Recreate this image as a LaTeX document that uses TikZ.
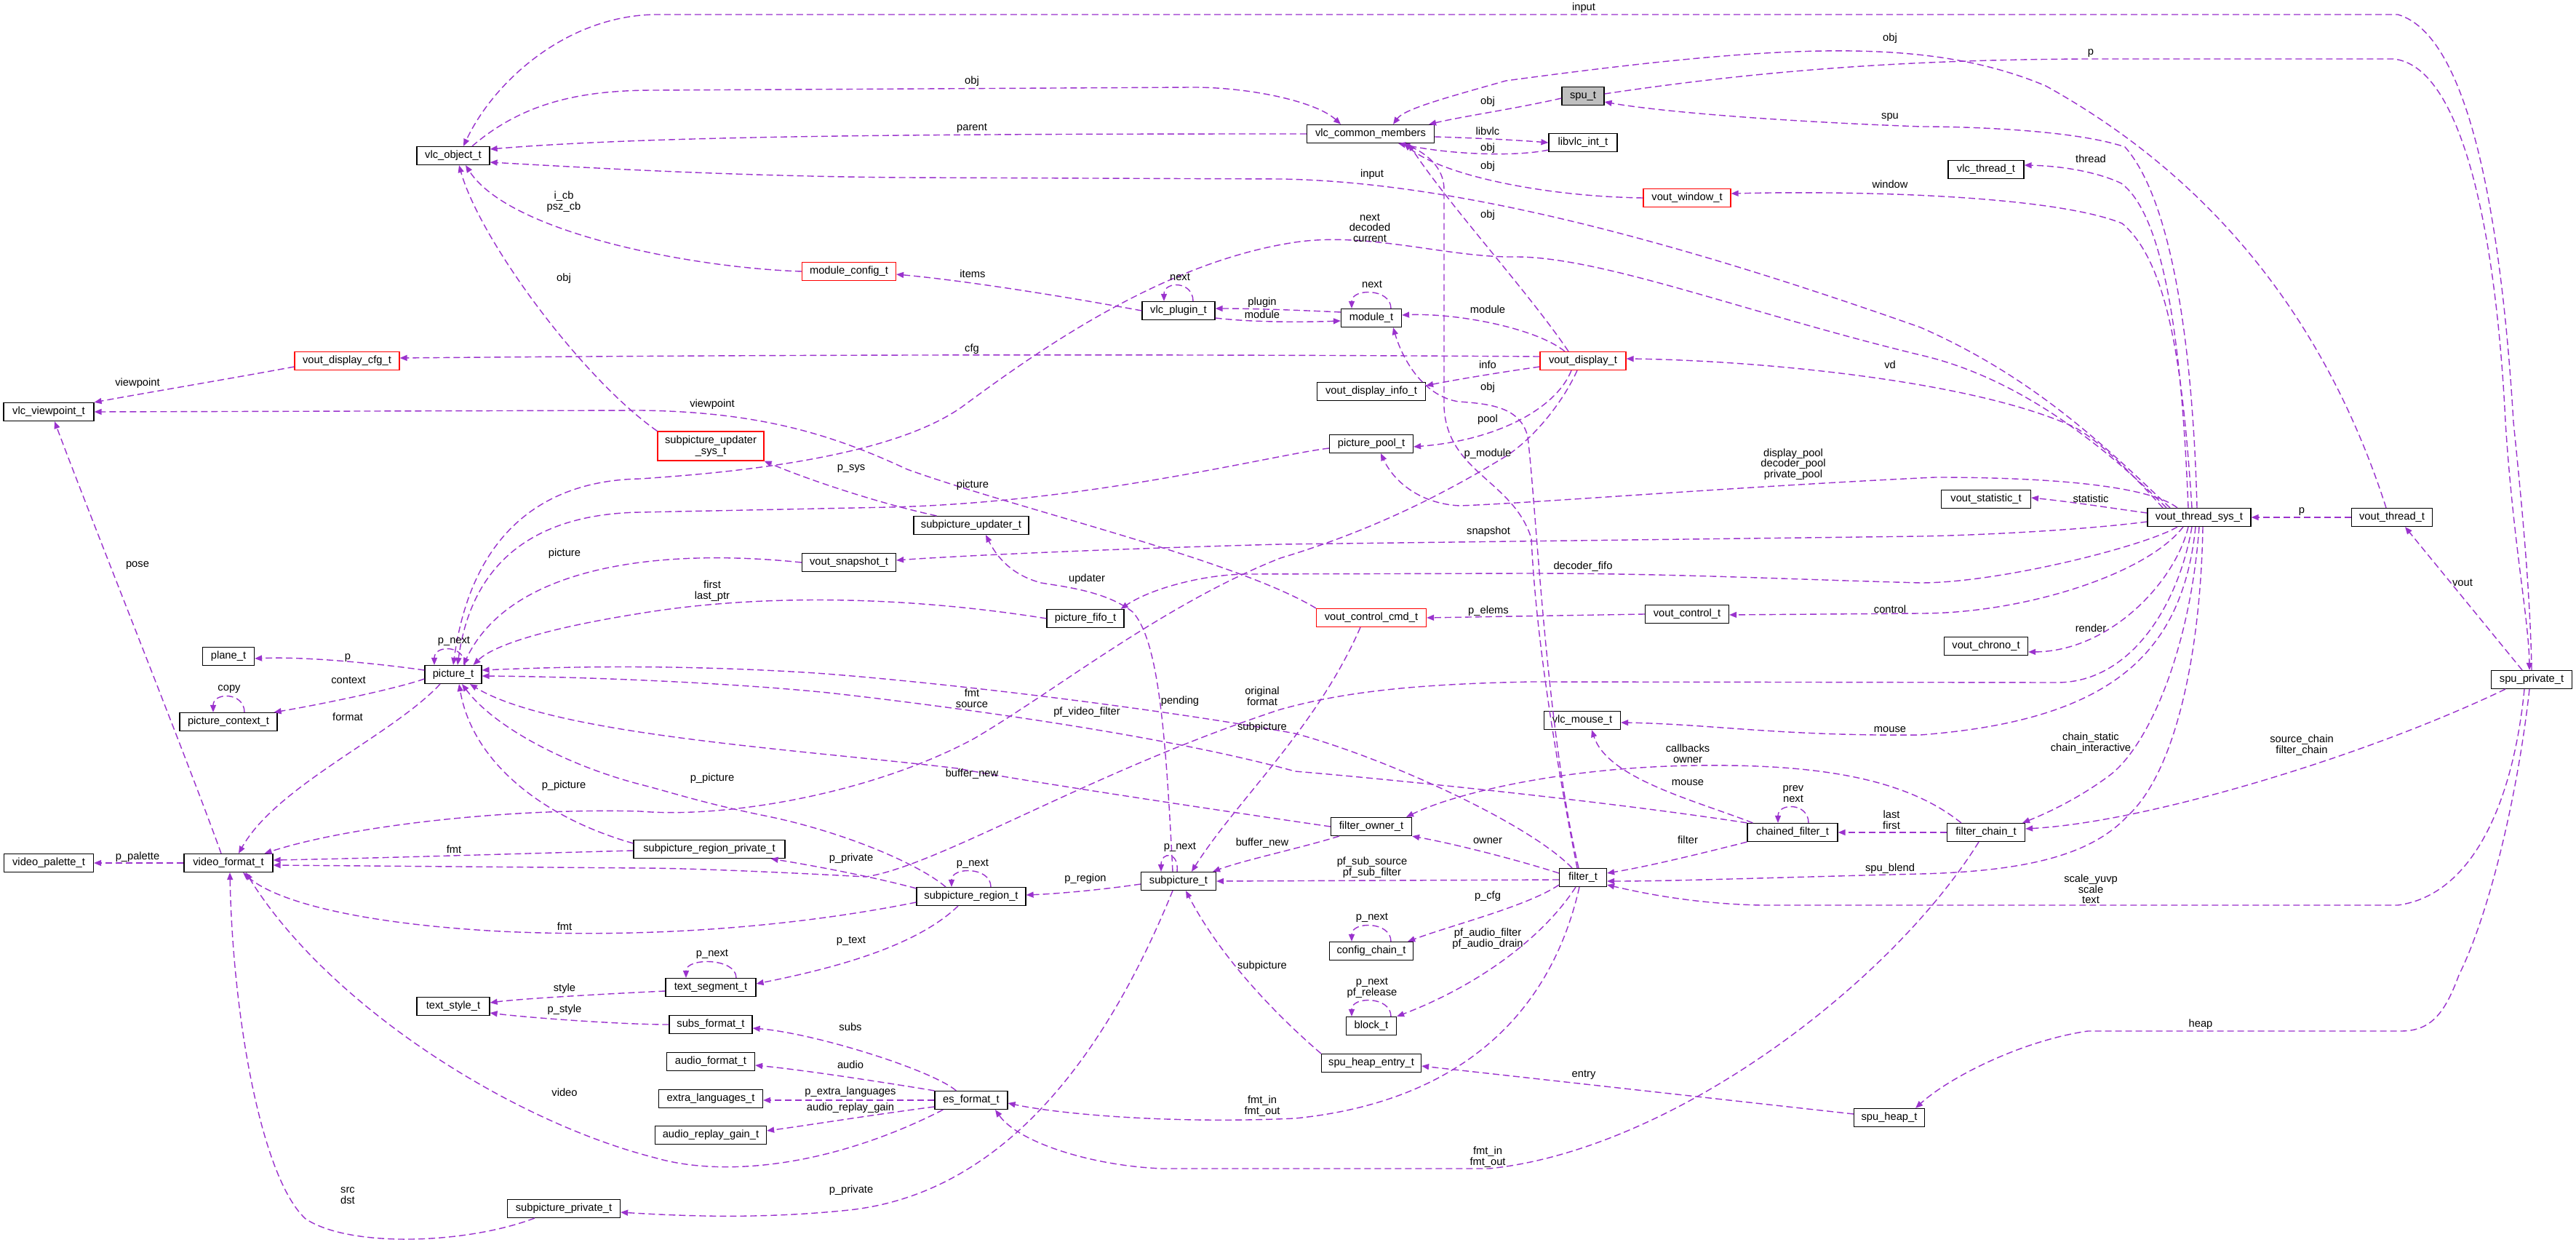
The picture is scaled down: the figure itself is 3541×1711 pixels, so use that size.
\documentclass[tikz,border=0pt]{standalone}
\usepackage{fontspec}
\setmainfont{Liberation Sans}
\usepackage{tikz}
\usetikzlibrary{arrows.meta,calc}
\definecolor{EdgePurple}{HTML}{9A32CD}
\definecolor{RootGray}{HTML}{BFBFBF}

\begin{document}
\begin{tikzpicture}[x=0.5pt, y=-0.5pt,
    box/.style={draw=black, line width=0.6pt, fill=white, minimum height=12.5pt, inner sep=1pt, font=\fontsize{7.35}{7.3}\selectfont, align=center},
    redbox/.style={box, draw=red},
    rootbox/.style={box, fill=RootGray},
    lbl/.style={font=\fontsize{7.35}{7.3}\selectfont, align=center, inner sep=0pt},
    dep/.style={draw=EdgePurple, line width=0.7pt, dash pattern=on 4.5pt off 2.5pt, -{Triangle[length=5pt,width=4pt]}}
]
\path[fill=white, use as bounding box] (0,0) rectangle (3541,1711);

\node[rootbox, minimum width=29pt] (sput) at (2176,132) {spu\_t};
\node[box, minimum width=87.5pt] (vcm) at (1884,184) {vlc\_common\_members};
\node[box, minimum width=50pt] (vobj) at (623,214) {vlc\_object\_t};
\node[box, minimum width=47pt] (libvlc) at (2176,196) {libvlc\_int\_t};
\node[redbox, minimum width=60pt] (vwin) at (2319,272) {vout\_window\_t};
\node[box, minimum width=52pt] (vthr) at (2730,233) {vlc\_thread\_t};
\node[redbox, minimum width=64.5pt] (mcfg) at (1167,373) {module\_config\_t};
\node[box, minimum width=50pt] (vplug) at (1620,427) {vlc\_plugin\_t};
\node[box, minimum width=41.5pt] (mod) at (1885,437) {module\_t};
\node[redbox, minimum width=72pt] (vdcfg) at (477,496) {vout\_display\_cfg\_t};
\node[box, minimum width=62pt] (vview) at (67,566) {vlc\_viewpoint\_t};
\node[redbox, minimum width=59pt] (vdisp) at (2176,496) {vout\_display\_t};
\node[box, minimum width=74.5pt] (vdinfo) at (1885,538) {vout\_display\_info\_t};
\node[box, minimum width=57.5pt] (ppool) at (1885,610) {picture\_pool\_t};
\node[redbox, minimum width=73pt, minimum height=20pt] (supsys) at (977,613) {subpicture\_updater\\\_sys\_t};
\node[box, minimum width=79pt] (supd) at (1335,722) {subpicture\_updater\_t};
\node[box, minimum width=61.5pt] (vstat) at (2730,686) {vout\_statistic\_t};
\node[box, minimum width=71pt] (vtsys) at (3023,711) {vout\_thread\_sys\_t};
\node[box, minimum width=55.5pt] (vthread) at (3288,711) {vout\_thread\_t};
\node[box, minimum width=64.5pt] (vsnap) at (1167,773) {vout\_snapshot\_t};
\node[box, minimum width=53pt] (pfifo) at (1492,850) {picture\_fifo\_t};
\node[redbox, minimum width=75.5pt] (vccmd) at (1885,849) {vout\_control\_cmd\_t};
\node[box, minimum width=57.5pt] (vctrl) at (2319,844) {vout\_control\_t};
\node[box, minimum width=35.5pt] (plane) at (314,902) {plane\_t};
\node[box, minimum width=39pt] (pic) at (623,927) {picture\_t};
\node[box, minimum width=57.5pt] (vchrono) at (2730,888) {vout\_chrono\_t};
\node[box, minimum width=55.5pt] (spupriv) at (3480,934) {spu\_private\_t};
\node[box, minimum width=67pt] (picctx) at (314,992) {picture\_context\_t};
\node[box, minimum width=52.5pt] (vmouse) at (2175,990) {vlc\_mouse\_t};
\node[box, minimum width=55.5pt] (fowner) at (1885,1136) {filter\_owner\_t};
\node[box, minimum width=62pt] (cfilt) at (2464,1144) {chained\_filter\_t};
\node[box, minimum width=53.5pt] (fchain) at (2730,1144) {filter\_chain\_t};
\node[box, minimum width=61.5pt] (vpal) at (67,1186) {video\_palette\_t};
\node[box, minimum width=61pt] (vfmt) at (314,1186) {video\_format\_t};
\node[box, minimum width=104pt] (sregpriv) at (975,1167) {subpicture\_region\_private\_t};
\node[box, minimum width=75pt] (sreg) at (1335,1232) {subpicture\_region\_t};
\node[box, minimum width=51.5pt] (subpic) at (1620,1211) {subpicture\_t};
\node[box, minimum width=32.5pt] (filt) at (2176,1206) {filter\_t};
\node[box, minimum width=57.5pt] (cchain) at (1885,1307) {config\_chain\_t};
\node[box, minimum width=50pt] (tstyle) at (623,1383) {text\_style\_t};
\node[box, minimum width=62pt] (tseg) at (977,1357) {text\_segment\_t};
\node[box, minimum width=57pt] (subsf) at (977,1408) {subs\_format\_t};
\node[box, minimum width=34.5pt] (blk) at (1885,1410) {block\_t};
\node[box, minimum width=60.5pt] (audf) at (977,1459) {audio\_format\_t};
\node[box, minimum width=71.5pt] (extl) at (977,1510) {extra\_languages\_t};
\node[box, minimum width=50pt] (esf) at (1335,1512) {es\_format\_t};
\node[box, minimum width=76.5pt] (argain) at (977,1560) {audio\_replay\_gain\_t};
\node[box, minimum width=68.5pt] (sheapent) at (1885,1461) {spu\_heap\_entry\_t};
\node[box, minimum width=48.5pt] (sheap) at (2597,1536) {spu\_heap\_t};
\node[box, minimum width=77.5pt] (subpriv) at (775,1661) {subpicture\_private\_t};

\draw[dep] ($(vobj.north)+(26,0)$) .. controls (720,140) and (800,124) .. (900,124) -- (1640,120) .. controls (1720,120) and (1810,140) .. ($(vcm.north)+(-41,0)$);
\draw[dep] (vcm.west) .. controls (1300,184) and (900,186) .. ($(vobj.east)+(0,-9)$);
\draw[dep] (spupriv.north) .. controls (3478,800) and (3462,650) .. (3455,580) .. controls (3440,330) and (3400,50) .. (3296,20) -- (900,20) .. controls (780,22) and (680,110) .. ($(vobj.north)+(14,0)$);
\draw[dep] ($(vtsys.north)+(-40,0)$) .. controls (2900,620) and (2800,520) .. (2640,450) .. controls (2300,330) and (2000,250) .. (1760,246) -- (1240,244) .. controls (1000,242) and (800,230) .. ($(vobj.east)+(0,9)$);
\draw[dep] (mcfg.west) .. controls (950,368) and (700,320) .. ($(vobj.south)+(17,0)$);
\draw[dep] (supsys.north west) .. controls (800,520) and (660,330) .. ($(vobj.south)+(8,0)$);

\draw[dep] ($(sput.west)+(0,3)$) .. controls (2080,150) and (2010,160) .. ($(vcm.north east)+(-8,0)$);
\draw[dep] ($(sput.east)+(0,-3)$) .. controls (2400,100) and (2600,82) .. (2870,81) -- (3290,81) .. controls (3380,90) and (3430,300) .. (3444,580) .. controls (3455,750) and (3476,850) .. ($(spupriv.north)+(-3,0)$);
\draw[dep] ($(vthread.north)+(-8,0)$) .. controls (3200,450) and (3050,250) .. (2812,118) .. controls (2650,50) and (2450,60) .. (2070,111) .. controls (1985,135) and (1930,150) .. ($(vcm.north)+(31,0)$);
\draw[dep] ($(libvlc.south west)+(0,-3)$) .. controls (2080,216) and (1990,212) .. ($(vcm.south)+(38,0)$);
\draw[dep] ($(vcm.east)+(0,4)$) .. controls (2040,190) and (2090,193) .. (libvlc.west);
\draw[dep] (vwin.west) .. controls (2120,270) and (1980,240) .. ($(vcm.south)+(46,0)$);
\draw[dep] ($(vdisp.north)+(-20,0)$) .. controls (2100,400) and (1990,280) .. ($(vcm.south)+(52,0)$);
\draw[dep] ($(filt.north)+(-8,0)$) .. controls (2130,1000) and (2110,850) .. (2105,740) .. controls (2080,660) and (1990,650) .. (1985,560) -- (1985,260) .. controls (1985,230) and (1960,210) .. ($(vcm.south)+(44,0)$);

\draw[dep] ($(vtsys.north)+(-3,0)$) .. controls (3015,500) and (2990,280) .. (2921,202) .. controls (2850,178) and (2700,174) .. (2640,174) .. controls (2400,165) and (2260,150) .. ($(sput.east)+(0,8)$);
\draw[dep] ($(vtsys.north)+(-10,0)$) .. controls (3000,500) and (2980,360) .. (2917,307) .. controls (2820,268) and (2550,262) .. ($(vwin.east)+(0,-6)$);
\draw[dep] ($(vtsys.north)+(-15,0)$) .. controls (3000,500) and (2980,300) .. (2916,252) .. controls (2880,235) and (2830,228) .. ($(vthr.east)+(0,-6)$);
\draw[dep] ($(vtsys.north)+(-50,0)$) .. controls (2930,650) and (2880,600) .. (2847,585) .. controls (2700,520) and (2400,495) .. ($(vdisp.east)+(0,-3)$);
\draw[dep] ($(vtsys.north)+(-45,0)$) .. controls (2900,620) and (2780,520) .. (2640,488) .. controls (2400,430) and (2200,352) .. (2081,353) .. controls (1990,354) and (1880,318) .. (1780,333) .. controls (1600,360) and (1430,480) .. (1328,555) .. controls (1230,630) and (1000,650) .. (880,658) .. controls (760,660) and (650,720) .. (pic.north);
\draw[dep] ($(vtsys.west)+(0,-6)$) .. controls (2900,698) and (2850,690) .. ($(vstat.east)+(0,-2)$);
\draw[dep] ($(vtsys.north)+(-30,0)$) .. controls (2960,672) and (2850,656) .. (2660,656) .. controls (2400,668) and (2100,692) .. (2006,695) .. controls (1950,692) and (1915,660) .. ($(ppool.south)+(13,0)$);
\draw[dep] ($(vdisp.south)+(-16,0)$) .. controls (2140,560) and (2060,605) .. ($(ppool.east)+(0,4)$);
\draw[dep] ($(vtsys.west)+(0,6)$) .. controls (2850,730) and (2700,736) .. (2640,737) -- (1760,748) .. controls (1500,755) and (1300,765) .. ($(vsnap.east)+(0,-3)$);
\draw[dep] ($(vtsys.south)+(-30,0)$) .. controls (2950,750) and (2750,801) .. (2640,801) .. controls (2450,796) and (2300,788) .. (2100,788) -- (1712,789) .. controls (1650,790) and (1580,810) .. ($(pfifo.north east)+(-5,0)$);
\draw[dep] ($(vtsys.south)+(-22,0)$) .. controls (2950,790) and (2780,843) .. (2640,843) -- ($(vctrl.east)+(0,1)$);
\draw[dep] ($(vtsys.south)+(-15,0)$) .. controls (2990,800) and (2900,895) .. ($(vchrono.east)+(0,8)$);
\draw[dep] ($(vtsys.south)+(-10,0)$) .. controls (2995,830) and (2930,937) .. (2829,938) -- (2105,937) .. controls (1950,940) and (1850,950) .. (1760,975) .. controls (1500,1060) and (1290,1190) .. (1190,1205) .. controls (1100,1200) and (950,1193) .. (880,1193) -- ($(vfmt.east)+(0,3)$);
\draw[dep] ($(vtsys.south)+(-5,0)$) .. controls (3000,900) and (2900,990) .. (2640,1010) .. controls (2450,1012) and (2350,995) .. ($(vmouse.east)+(0,3)$);
\draw[dep] (vtsys.south) .. controls (3010,900) and (2950,1030) .. (2898,1067) .. controls (2860,1095) and (2820,1115) .. ($(fchain.north east)+(-4,0)$);
\draw[dep] ($(vtsys.south)+(5,0)$) .. controls (3025,900) and (2990,1060) .. (2926,1120) .. controls (2880,1170) and (2800,1197) .. (2640,1201) .. controls (2400,1207) and (2300,1211) .. ($(filt.east)+(0,5)$);

\draw[dep] ($(spupriv.south)+(-10,0)$) .. controls (3455,1100) and (3400,1230) .. (3296,1244) -- (2420,1244) .. controls (2330,1242) and (2260,1228) .. ($(filt.east)+(0,10)$);
\draw[dep] ($(spupriv.south)+(-3,0)$) .. controls (3460,1100) and (3420,1260) .. (3380,1340) .. controls (3360,1395) and (3340,1417) .. (3300,1417) -- (2870,1417) .. controls (2780,1430) and (2680,1480) .. ($(sheap.north east)+(-13,0)$);
\draw[dep] ($(spupriv.south west)+(20,0)$) .. controls (3250,1040) and (2950,1130) .. ($(fchain.east)+(0,-5)$);
\draw[dep] ($(spupriv.north)+(-13,0)$) -- ($(vthread.south)+(18,0)$);
\draw[dep] (vthread.west) -- (vtsys.east);

\draw[dep] ($(sheap.west)+(0,-5)$) -- ($(sheapent.east)+(0,4)$);
\draw[dep] (sheapent.north west) .. controls (1760,1400) and (1680,1320) .. ($(subpic.south)+(10,0)$);

\draw[dep] ($(filt.west)+(0,-6)$) .. controls (2080,1180) and (2000,1160) .. (fowner.south east);
\draw[dep] (cfilt.south west) .. controls (2350,1170) and (2270,1190) .. ($(filt.east)+(0,-6)$);
\draw[dep] (fchain.west) -- (cfilt.east);
\draw[dep] ($(cfilt.north)+(22,0)$) .. controls +(0,-28) and +(0,-28) .. ($(cfilt.north)+(-20,0)$);
\draw[dep] ($(cfilt.north west)+(8,0)$) .. controls (2330,1100) and (2210,1070) .. ($(vmouse.south)+(13,0)$);
\draw[dep] ($(fchain.north west)+(20,0)$) .. controls (2620,1070) and (2500,1050) .. (2334,1052) .. controls (2150,1054) and (2000,1090) .. ($(fowner.north east)+(-8,0)$);
\draw[dep] (cfilt.north west) .. controls (2200,1100) and (1900,1070) .. (1780,1060) .. controls (1600,1010) and (1300,970) .. (1138,952) .. controls (1000,938) and (800,930) .. ($(pic.east)+(0,2)$);
\draw[dep] ($(filt.north)+(-15,0)$) .. controls (2100,1130) and (1900,1040) .. (1780,1008) .. controls (1600,975) and (1300,938) .. (1121,925) .. controls (950,914) and (800,915) .. ($(pic.east)+(0,-6)$);
\draw[dep] (fowner.west) .. controls (1650,1110) and (1400,1072) .. (1316,1056) .. controls (1100,1030) and (760,1010) .. ($(pic.south)+(23,0)$);
\draw[dep] ($(fowner.south west)+(12,0)$) .. controls (1790,1165) and (1710,1182) .. ($(subpic.north east)+(-5,0)$);
\draw[dep] ($(filt.west)+(0,3)$) -- (subpic.east);
\draw[dep] ($(filt.south west)+(0,-3)$) .. controls (2100,1245) and (2000,1270) .. ($(cchain.north east)+(-8,0)$);
\draw[dep] ($(cchain.north)+(27,0)$) .. controls +(0,-28) and +(0,-28) .. ($(cchain.north)+(-27,0)$);
\draw[dep] ($(filt.south)+(-10,0)$) .. controls (2120,1290) and (2030,1355) .. (blk.north east);
\draw[dep] ($(blk.north)+(27,0)$) .. controls +(0,-28) and +(0,-28) .. ($(blk.north)+(-27,0)$);
\draw[dep] ($(filt.south)+(-5,0)$) .. controls (2130,1400) and (2000,1515) .. (1780,1537) .. controls (1600,1545) and (1450,1530) .. ($(esf.east)+(0,4)$);
\draw[dep] ($(fchain.south)+(-10,0)$) .. controls (2600,1350) and (2300,1580) .. (2047,1606) -- (1597,1606) .. controls (1500,1602) and (1400,1570) .. ($(esf.south)+(33,0)$);
\draw[dep] ($(filt.north)+(-6,0)$) .. controls (2125,1000) and (2112,700) .. (2100,600) .. controls (2090,560) and (2050,555) .. (2005,552) .. controls (1960,545) and (1930,500) .. ($(mod.south)+(30,0)$);

\draw[dep] ($(vdisp.north)+(-25,0)$) .. controls (2110,450) and (2000,430) .. ($(mod.east)+(0,-4)$);
\draw[dep] ($(mod.north)+(27,0)$) .. controls +(0,-28) and +(0,-28) .. ($(mod.north)+(-27,0)$);
\draw[dep] ($(vplug.east)+(0,10)$) .. controls (1720,443) and (1790,443) .. ($(mod.west)+(0,4)$);
\draw[dep] ($(mod.west)+(0,-8)$) .. controls (1780,426) and (1720,424) .. ($(vplug.east)+(0,-3)$);
\draw[dep] ($(vplug.north)+(20,0)$) .. controls +(0,-28) and +(0,-28) .. ($(vplug.north)+(-20,0)$);
\draw[dep] (vplug.west) .. controls (1450,405) and (1320,385) .. ($(mcfg.east)+(0,4)$);
\draw[dep] ($(vdisp.west)+(0,8)$) .. controls (2060,512) and (2000,522) .. ($(vdinfo.east)+(0,-8)$);
\draw[dep] ($(vdisp.west)+(0,-6)$) .. controls (1500,486) and (1000,488) .. ($(vdcfg.east)+(0,-4)$);
\draw[dep] ($(vdcfg.west)+(0,8)$) .. controls (330,518) and (200,540) .. (vview.north east);
\draw[dep] (vccmd.north west) .. controls (1700,770) and (1400,700) .. (1247,645) .. controls (1150,600) and (1050,566) .. (880,564) -- (vview.east);
\draw[dep] ($(vdisp.south)+(-8,0)$) .. controls (2145,560) and (2100,610) .. (2065,630) .. controls (1950,700) and (1850,740) .. (1760,767) .. controls (1600,830) and (1450,950) .. (1339,1015) .. controls (1200,1090) and (1000,1125) .. (880,1115) .. controls (700,1110) and (480,1135) .. ($(vfmt.north east)+(-12,0)$);

\draw[dep] ($(supd.north west)+(32,0)$) .. controls (1200,690) and (1100,655) .. (supsys.south east);
\draw[dep] ($(subpic.north)+(-8,0)$) .. controls (1602,1000) and (1592,880) .. (1557,841) .. controls (1520,812) and (1460,806) .. (1431,801) .. controls (1390,790) and (1370,765) .. ($(supd.south)+(20,0)$);
\draw[dep] ($(vccmd.south)+(-15,0)$) .. controls (1810,1000) and (1700,1100) .. ($(subpic.north)+(18,0)$);
\draw[dep] (vctrl.west) -- (vccmd.east);

\draw[dep] ($(pic.north)+(16,0)$) .. controls +(0,-28) and +(0,-28) .. ($(pic.north)+(-26,0)$);
\draw[dep] (vsnap.west) .. controls (900,752) and (700,780) .. ($(pic.north)+(14,0)$);
\draw[dep] ($(ppool.west)+(0,6)$) .. controls (1750,625) and (1500,690) .. (1224,697) -- (880,704) .. controls (750,706) and (650,760) .. ($(pic.north)+(6,0)$);
\draw[dep] (pfifo.west) .. controls (1250,820) and (1050,815) .. (880,843) .. controls (760,862) and (680,885) .. ($(pic.north east)+(-12,0)$);
\draw[dep] ($(pic.west)+(0,-6)$) .. controls (520,912) and (420,902) .. ($(plane.east)+(0,3)$);
\draw[dep] ($(pic.west)+(0,6)$) .. controls (540,948) and (430,970) .. ($(picctx.north east)+(-5,0)$);
\draw[dep] ($(picctx.north)+(22,0)$) .. controls +(0,-28) and +(0,-28) .. ($(picctx.north)+(-21,0)$);
\draw[dep] ($(pic.south)+(-18,0)$) .. controls (540,1010) and (380,1080) .. ($(vfmt.north)+(14,0)$);
\draw[dep] ($(vfmt.north)+(-10,0)$) .. controls (260,1050) and (120,700) .. ($(vview.south)+(8,0)$);
\draw[dep] (vfmt.west) -- (vpal.east);

\draw[dep] ($(sregpriv.west)+(0,2)$) .. controls (750,1172) and (500,1180) .. ($(vfmt.east)+(0,-4)$);
\draw[dep] ($(sregpriv.west)+(0,-8)$) .. controls (750,1125) and (650,1050) .. ($(pic.south)+(8,0)$);
\draw[dep] ($(sreg.north west)+(0,2)$) .. controls (1200,1205) and (1120,1190) .. ($(sregpriv.south east)+(-20,0)$);
\draw[dep] ($(sreg.north)+(27,0)$) .. controls +(0,-28) and +(0,-28) .. ($(sreg.north)+(-27,0)$);
\draw[dep] ($(sreg.west)+(0,8)$) .. controls (1100,1272) and (900,1290) .. (689,1280) .. controls (500,1270) and (380,1240) .. ($(vfmt.south)+(20,0)$);
\draw[dep] ($(sreg.south)+(-18,0)$) .. controls (1260,1300) and (1150,1330) .. ($(tseg.east)+(0,-5)$);
\draw[dep] ($(sreg.north)+(-35,0)$) .. controls (1260,1185) and (1150,1140) .. (1046,1120) .. controls (960,1102) and (920,1088) .. (880,1078) .. controls (780,1052) and (680,1000) .. ($(pic.south)+(12,0)$);
\draw[dep] ($(subpic.west)+(0,4)$) .. controls (1520,1222) and (1460,1228) .. ($(sreg.east)+(0,-2)$);
\draw[dep] ($(subpic.north)+(-2,0)$) .. controls +(3,-28) and +(0,-28) .. ($(subpic.north)+(-24,0)$);
\draw[dep] ($(subpic.south)+(-8,0)$) .. controls (1520,1450) and (1380,1640) .. (1167,1663) .. controls (1050,1675) and (950,1672) .. ($(subpriv.east)+(0,5)$);

\draw[dep] ($(esf.south west)+(12,0)$) .. controls (1150,1600) and (1000,1620) .. (900,1591) .. controls (700,1540) and (450,1380) .. ($(vfmt.south)+(24,0)$);
\draw[dep] ($(subpriv.south west)+(38,0)$) .. controls (640,1710) and (480,1715) .. (420,1675) .. controls (360,1620) and (320,1400) .. ($(vfmt.south)+(2,0)$);
\draw[dep] ($(esf.north west)+(30,0)$) .. controls (1280,1470) and (1120,1420) .. ($(subsf.east)+(0,5)$);
\draw[dep] (esf.north west) .. controls (1200,1485) and (1100,1470) .. ($(audf.east)+(0,5)$);
\draw[dep] (esf.west) -- ($(extl.east)+(0,2)$);
\draw[dep] ($(esf.west)+(0,9)$) .. controls (1200,1532) and (1100,1548) .. ($(argain.east)+(0,-6)$);
\draw[dep] (subsf.west) .. controls (850,1408) and (720,1398) .. ($(tstyle.east)+(0,9)$);
\draw[dep] ($(tseg.west)+(0,5)$) .. controls (850,1365) and (720,1372) .. ($(tstyle.east)+(0,-5)$);
\draw[dep] ($(tseg.north)+(35,0)$) .. controls +(0,-28) and +(0,-28) .. ($(tseg.north)+(-34,0)$);

\node[lbl] (lin1) at (2177,11) {input};
\node[lbl] (lobj1) at (1336,112) {obj};
\node[lbl] (lobj2) at (2598,53) {obj};
\node[lbl] (lp1) at (2874,73) {p};
\node[lbl] (lobj3) at (2045,140) {obj};
\node[lbl] (lspu) at (2598,161) {spu};
\node[lbl] (lparent) at (1336,176) {parent};
\node[lbl] (llibvlc) at (2045,180) {libvlc};
\node[lbl] (lobj4) at (2045,204) {obj};
\node[lbl] (lthread) at (2874,218) {thread};
\node[lbl] (lobj5) at (2045,229) {obj};
\node[lbl] (lin2) at (1886,240) {input};
\node[lbl] (lwindow) at (2598,253) {window};
\node[lbl] (licb) at (775,277) {i\_cb\\psz\_cb};
\node[lbl] (lobj6) at (2045,296) {obj};
\node[lbl] (lnext1) at (1883,313) {next\\decoded\\current};
\node[lbl] (litems) at (1337,376) {items};
\node[lbl] (lobj7) at (775,383) {obj};
\node[lbl] (lnext2) at (1622,381) {next};
\node[lbl] (lnext3) at (1886,391) {next};
\node[lbl] (lplugin) at (1735,416) {plugin};
\node[lbl] (lmodule1) at (1735,432) {module};
\node[lbl] (lmodule2) at (2045,425) {module};
\node[lbl] (lcfg) at (1336,480) {cfg};
\node[lbl] (linfo) at (2045,501) {info};
\node[lbl] (lvd) at (2598,501) {vd};
\node[lbl] (lview1) at (189,527) {viewpoint};
\node[lbl] (lobj8) at (2045,533) {obj};
\node[lbl] (lview2) at (979,556) {viewpoint};
\node[lbl] (lpool) at (2045,577) {pool};
\node[lbl] (lpmodule) at (2045,624) {p\_module};
\node[lbl] (lpools) at (2465,638) {display\_pool\\decoder\_pool\\private\_pool};
\node[lbl] (lpsys) at (1170,644) {p\_sys};
\node[lbl] (lpicture1) at (1337,667) {picture};
\node[lbl] (lstat) at (2874,685) {statistic};
\node[lbl] (lp2) at (3164,703) {p};
\node[lbl] (lsnap) at (2046,731) {snapshot};
\node[lbl] (lpicture2) at (776,761) {picture};
\node[lbl] (lpose) at (189,777) {pose};
\node[lbl] (ldfifo) at (2176,779) {decoder\_fifo};
\node[lbl] (lupdater) at (1494,796) {updater};
\node[lbl] (lvout) at (3385,801) {vout};
\node[lbl] (lfirst) at (979,812) {first\\last\_ptr};
\node[lbl] (lcontrol) at (2598,837) {control};
\node[lbl] (lpelems) at (2046,840) {p\_elems};
\node[lbl] (lrender) at (2874,863) {render};
\node[lbl] (lpnext1) at (624,881) {p\_next};
\node[lbl] (lp3) at (478,904) {p};
\node[lbl] (lcontext) at (479,935) {context};
\node[lbl] (lcopy) at (315,947) {copy};
\node[lbl] (lorig) at (1735,957) {original\\format};
\node[lbl] (lfmtsrc) at (1336,960) {fmt\\source};
\node[lbl] (lpending) at (1622,964) {pending};
\node[lbl] (lpfvideo) at (1494,979) {pf\_video\_filter};
\node[lbl] (lformat) at (478,985) {format};
\node[lbl] (lsubpic1) at (1735,1000) {subpicture};
\node[lbl] (lmouse1) at (2598,1003) {mouse};
\node[lbl] (lchains) at (2874,1021) {chain\_static\\chain\_interactive};
\node[lbl] (lsrcchain) at (3164,1024) {source\_chain\\filter\_chain};
\node[lbl] (lcallbacks) at (2320,1036) {callbacks\\owner};
\node[lbl] (lbufnew1) at (1336,1064) {buffer\_new};
\node[lbl] (lppic1) at (979,1070) {p\_picture};
\node[lbl] (lmouse2) at (2320,1076) {mouse};
\node[lbl] (lppic2) at (775,1080) {p\_picture};
\node[lbl] (lprevnext) at (2465,1091) {prev\\next};
\node[lbl] (llastfirst) at (2600,1127) {last\\first};
\node[lbl] (lfilter) at (2320,1154) {filter};
\node[lbl] (lowner) at (2045,1156) {owner};
\node[lbl] (lbufnew2) at (1735,1159) {buffer\_new};
\node[lbl] (lpnext2) at (1622,1164) {p\_next};
\node[lbl] (lfmt1) at (624,1167) {fmt};
\node[lbl] (lpalette) at (189,1178) {p\_palette};
\node[lbl] (lppriv1) at (1170,1180) {p\_private};
\node[lbl] (lpnext3) at (1337,1187) {p\_next};
\node[lbl] (lpfsub) at (1886,1192) {pf\_sub\_source\\pf\_sub\_filter};
\node[lbl] (lspublend) at (2598,1194) {spu\_blend};
\node[lbl] (lpregion) at (1492,1208) {p\_region};
\node[lbl] (lscale) at (2874,1222) {scale\_yuvp\\scale\\text};
\node[lbl] (lpcfg) at (2045,1232) {p\_cfg};
\node[lbl] (lpnext4) at (1886,1261) {p\_next};
\node[lbl] (lfmt2) at (776,1273) {fmt};
\node[lbl] (lpfaudio) at (2045,1290) {pf\_audio\_filter\\pf\_audio\_drain};
\node[lbl] (lptext) at (1170,1293) {p\_text};
\node[lbl] (lpnext5) at (979,1311) {p\_next};
\node[lbl] (lsubpic2) at (1735,1328) {subpicture};
\node[lbl] (lpnextrel) at (1886,1358) {p\_next\\pf\_release};
\node[lbl] (lstyle) at (776,1359) {style};
\node[lbl] (lpstyle) at (776,1388) {p\_style};
\node[lbl] (lheap) at (3025,1408) {heap};
\node[lbl] (lsubs) at (1169,1411) {subs};
\node[lbl] (laudio) at (1169,1463) {audio};
\node[lbl] (lentry) at (2177,1477) {entry};
\node[lbl] (lvideo) at (776,1501) {video};
\node[lbl] (lpextra) at (1169,1501) {p\_extra\_languages};
\node[lbl] (lfmtio1) at (1735,1520) {fmt\_in\\fmt\_out};
\node[lbl] (largain) at (1169,1523) {audio\_replay\_gain};
\node[lbl] (lfmtio2) at (2045,1590) {fmt\_in\\fmt\_out};
\node[lbl] (lppriv2) at (1170,1636) {p\_private};
\node[lbl] (lsrcdst) at (478,1643) {src\\dst};
\end{tikzpicture}
\end{document}
